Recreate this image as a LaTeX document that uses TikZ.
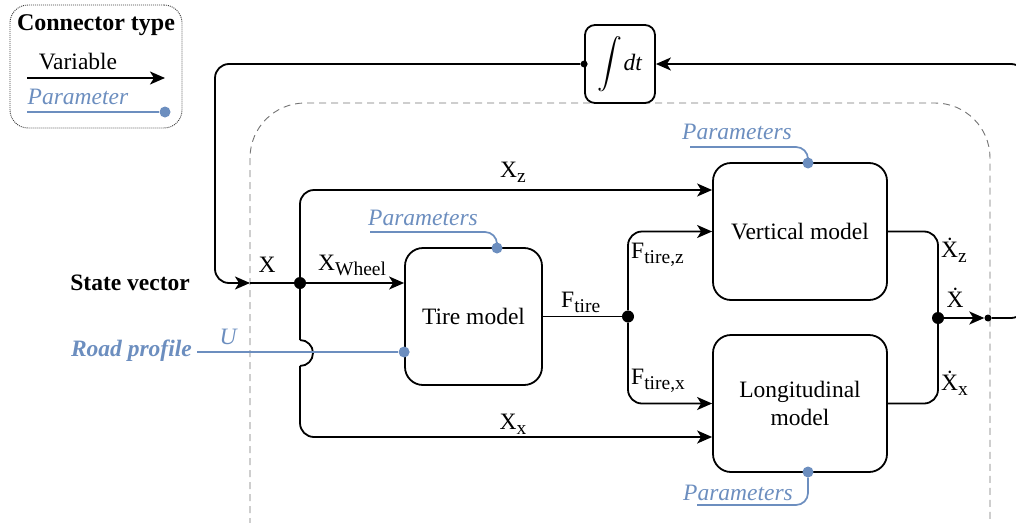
\documentclass[tikz,border=0pt]{standalone}
\usepackage{amsmath}
\usepackage{fontspec}
\setmainfont{Liberation Serif}
\usetikzlibrary{arrows.meta,calc}
\definecolor{pblue}{HTML}{6C8EBF}
\newcommand\lowsub[1]{\raisebox{-5pt}{\fontsize{19.5}{21}\selectfont #1}}
\begin{document}
\begin{tikzpicture}[x=1pt,y=1pt,
  every node/.style={font=\fontsize{23.5}{28}\selectfont, inner sep=0pt},
  block/.style={draw, line width=1.8pt, rounded corners=18pt, align=center},
  var/.style={line width=1.8pt, -{Stealth[length=15pt,width=13pt,inset=4pt]}},
  wire/.style={line width=1.8pt},
  param/.style={pblue, line width=1.7pt},
  pdot/.style={circle, fill=pblue, minimum size=11pt},
  jdot/.style={circle, fill=black, minimum size=12pt},
  sdot/.style={circle, fill=black, minimum size=7pt},
  plbl/.style={text=pblue, font=\fontsize{23.5}{28}\selectfont\itshape},
  legendbox/.style={draw=black!75, line width=0.9pt, dash pattern=on 1pt off 1pt, rounded corners=18pt},
  container/.style={draw=black!55, line width=0.9pt, dash pattern=on 7pt off 5pt, rounded corners=55pt},
]
\useasboundingbox (0,0) rectangle (1016,-522);

% container
\draw[container] (250,-103) rectangle (990,-580);

% legend
\node[legendbox, minimum width=172pt, minimum height=123pt] (legend) at (96,-66.5) {};
\node[font=\fontsize{24}{28}\selectfont\bfseries] (ltitle) at (96,-25) {Connector type};
\node (lvar) at (78,-62) {Variable};
\coordinate (lv1) at (27,-78);
\coordinate (lv2) at (165,-78);
\draw[var] (lv1) -- (lv2);
\node[plbl] (lpar) at (78,-97) {Parameter};
\coordinate (lp1) at (27,-112);
\node[pdot] (lpd) at (165,-112) {};
\draw[param] (lp1) -- (lpd);

% blocks
\node[block, minimum width=70pt, minimum height=78pt, rounded corners=10pt] (integ) at (620,-64) {};
\node (intsym) at (620,-64) {$\displaystyle\int$\kern1pt\textit{dt}};
\node[block, minimum width=137pt, minimum height=137pt] (tire) at (473.5,-316.5) {Tire model};
\node[block, minimum width=174pt, minimum height=137pt] (vert) at (800,-231.5) {Vertical model};
\node[block, minimum width=174pt, minimum height=137pt] (long) at (800,-403.5) {Longitudinal\\model};

% junctions
\node[jdot] (J1) at (300,-283) {};
\node[jdot] (J2) at (628,-316.5) {};
\node[jdot] (J3) at (938,-318) {};
\node[sdot] (out) at (988,-318) {};
\node[sdot] (ind) at (integ.west) {};

% input side
\node[font=\fontsize{23.5}{28}\selectfont\bfseries, anchor=east] (sv) at (190,-283) {State vector};
\coordinate (xin) at (250,-283);
\coordinate (fbl) at (215,-283);
\draw[var, rounded corners=14pt] (ind) -| (fbl) -- (xin);
\draw[wire] (xin) -- (J1);
\node (lX) at (267,-265) {X};
\draw[var] (J1) -- (tire.west |- J1);
\node[anchor=west] (lXw) at (318,-265) {X\lowsub{Wheel}};

% X_z
\draw[var, rounded corners=14pt] (J1) |- ($(vert.west)+(0,41.5)$);
\node (lXz) at (513,-172) {X\lowsub{z}};

% X_x with hop
\coordinate (h1) at (300,-340);
\coordinate (h2) at (300,-366);
\draw[wire] (J1) -- (h1);
\draw[wire] (h1) arc[start angle=90, end angle=-90, radius=13pt];
\draw[var, rounded corners=14pt] (h2) |- ($(long.west)+(0,-33.5)$);
\node (lXx) at (513,-424) {X\lowsub{x}};

% road profile
\node[plbl, font=\fontsize{23.5}{28}\selectfont\bfseries\itshape, anchor=east] (rp) at (192,-351) {Road profile};
\coordinate (u0) at (197,-352);
\node[pdot] (tpd) at (tire.west |- u0) {};
\draw[param] (u0) -- (tpd);
\node[plbl] (lU) at (228,-337) {U};

% tire parameters
\node[pdot] (tpp) at (497,-248) {};
\coordinate (tpe) at (370,-232);
\draw[param, rounded corners=12pt] (tpp) |- (tpe);
\node[plbl] (ltp) at (423,-218) {Parameters};

% F_tire
\draw[wire] (tire.east |- J2) -- (J2);
\node[anchor=west] (lF) at (561,-302) {F\lowsub{tire}};
\draw[var, rounded corners=14pt] (J2) |- (vert.west);
\draw[var, rounded corners=14pt] (J2) |- (long.west);
\node[anchor=west] (lFz) at (631,-255) {F\lowsub{tire,z}};
\node[anchor=west] (lFx) at (631,-381) {F\lowsub{tire,x}};

% vertical parameters
\node[pdot] (vpp) at (808,-163) {};
\coordinate (vpe) at (690,-147);
\draw[param, rounded corners=12pt] (vpp) |- (vpe);
\node[plbl] (lvp) at (737,-132) {Parameters};

% longitudinal parameters
\node[pdot] (lpp) at (808,-472) {};
\coordinate (lpe) at (697,-505);
\draw[param, rounded corners=12pt] (lpp) |- (lpe);
\node[plbl] (llp) at (738,-493) {Parameters};

% outputs
\draw[wire, rounded corners=14pt] (vert.east) -| (J3);
\draw[wire, rounded corners=14pt] (long.east) -| (J3);
\draw[var] (J3) -- (out);
\node[anchor=west] (lXdz) at (941,-250) {\.{X}\lowsub{z}};
\node (lXd) at (955,-298) {\.{X}};
\node[anchor=west] (lXdx) at (941,-383) {\.{X}\lowsub{x}};

% feedback
\coordinate (fbr) at (1025,-318);
\draw[var, rounded corners=14pt] (out) -- (fbr) |- (integ.east);
\end{tikzpicture}
\end{document}
